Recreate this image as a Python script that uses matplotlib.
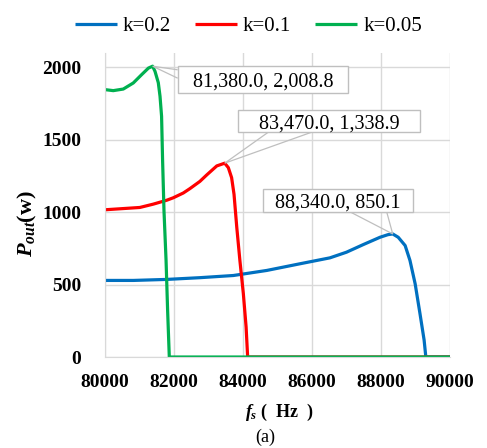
import matplotlib
matplotlib.use("Agg")
import matplotlib.pyplot as plt
from matplotlib.patches import Rectangle, Polygon

plt.rcParams["font.family"] = "serif"
plt.rcParams["font.serif"] = ["Liberation Serif"]
plt.rcParams["mathtext.fontset"] = "custom"
plt.rcParams["mathtext.it"] = "Liberation Serif:italic:bold"
plt.rcParams["mathtext.rm"] = "Liberation Serif:bold"

# k=0.2
fs_02 = [80000, 80820, 81790, 82750, 83720, 84690, 85650, 86520, 87000, 87490, 87970,
         88200, 88340, 88500, 88700, 88840, 88990, 89130, 89250, 89300, 90000]
p_02 = [529, 529, 536, 548, 563, 598, 644, 685, 724, 777, 827,
        845, 850.1, 827, 770, 667, 506, 300, 117, 0, 0]
# k=0.1
fs_01 = [80000, 81010, 81400, 81790, 81980, 82270, 82460, 82750, 82950, 83240, 83470,
         83575, 83670, 83740, 83820, 83910, 84010, 84090, 84135, 90000]
p_01 = [1017, 1033, 1056, 1083, 1100, 1133, 1163, 1213, 1258, 1320, 1338.9,
        1308, 1239, 1124, 895, 667, 438, 208, 0, 0]
# k=0.05
fs_005 = [80000, 80240, 80530, 80820, 81060, 81260, 81380, 81450, 81545, 81595, 81640,
          81670, 81710, 81770, 81815, 81864, 90000]
p_005 = [1847, 1840, 1851, 1893, 1950, 1996, 2008.8, 1973, 1895, 1801, 1663,
         1354, 1010, 667, 323, 0, 0]

labels = ["k=0.2", "k=0.1", "k=0.05"]
colors = ["#0070C0", "#FF0000", "#00B050"]

# data labels: peak, text, box (x0, x1, y0, y1), callout foot points on box
peaks = [(88340, 850.1), (83470, 1338.9), (81380, 2008.8)]
peak_text = ["88,340.0, 850.1", "83,470.0, 1,338.9", "81,380.0, 2,008.8"]
boxes = [(84580, 88930, 1003, 1161), (83855, 89130, 1553, 1704), (82116, 87043, 1821, 2007)]
feet = [((87100, 1003), (88165, 1003)), ((84733, 1553), (85991, 1553)), ((82107, 1984), (82107, 1926))]

fig = plt.figure(figsize=(4.87, 4.48), dpi=100)
ax = fig.add_axes([0.2156, 0.2031, 0.924 - 0.2156, 0.8817 - 0.2031])

series = [(fs_02, p_02), (fs_01, p_01), (fs_005, p_005)]
for (x, y), lab, c in zip(series, labels, colors):
    ax.plot(x, y, color=c, lw=2.3, label=lab, solid_capstyle="butt", solid_joinstyle="round")

for (px, py), txt, (x0, x1, y0, y1), (f1, f2) in zip(peaks, peak_text, boxes, feet):
    ax.add_patch(Polygon([f1, (px, py), f2], closed=False, fill=False, ec="#bfbfbf", lw=0.9, zorder=4))
    ax.add_patch(Rectangle((x0, y0), x1 - x0, y1 - y0, fc="white", ec="#bfbfbf", lw=1, zorder=5))
    ax.text((x0 + x1) / 2, (y0 + y1) / 2, txt, ha="center", va="center_baseline",
            fontsize=14.5, zorder=6)

ax.set_xlim(80000, 90000)
ax.set_ylim(0, 2100)
ax.set_xticks(range(80000, 90001, 2000))
ax.set_yticks(range(0, 2001, 500))
ax.grid(True, color="#d9d9d9", lw=1)
ax.set_axisbelow(True)
ax.tick_params(length=0, labelsize=14, pad=12)
ax.tick_params(axis="y", pad=17)
for lbl in ax.get_xticklabels() + ax.get_yticklabels():
    lbl.set_fontweight("bold")
for s in ["top", "right"]:
    ax.spines[s].set_visible(False)
for s in ["left", "bottom"]:
    ax.spines[s].set_color("#d9d9d9")

ax.set_ylabel(r"$P_{out}$(w)", fontsize=16, fontweight="bold")
ax.yaxis.set_label_coords(-0.19, 0.44)
ax.set_xlabel(r"$f_s$ (  Hz  )", fontsize=13, fontweight="bold")
ax.xaxis.set_label_coords(0.505, -0.148)
fig.text(0.545, 0.024, "(a)", ha="center", va="center", fontsize=13)

fig.legend(loc="upper center", bbox_to_anchor=(0.51, 1.005), ncol=3, frameon=False,
           fontsize=15, handlelength=2.0, columnspacing=1.15, handletextpad=0.3)

fig.savefig("out.png", dpi=100)
